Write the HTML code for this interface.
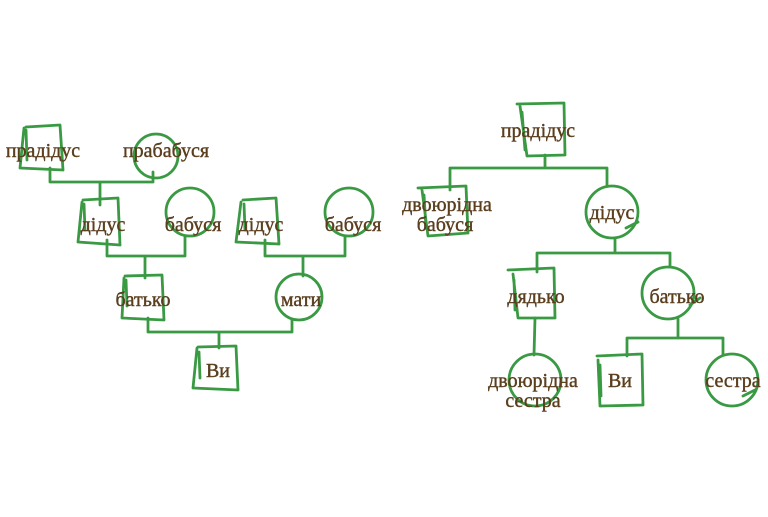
<!DOCTYPE html>
<html><head><meta charset="utf-8"><style>
html,body{margin:0;padding:0;background:#fff;}
svg text{font-family:"Liberation Serif","DejaVu Serif",serif;font-size:20px;fill:#5a3e1e;stroke:#5a3e1e;stroke-width:0.4;text-anchor:middle;}
</style></head><body>
<svg width="768" height="512" viewBox="0 0 768 512" xmlns="http://www.w3.org/2000/svg">
<g fill="none" stroke="#3a9a44" stroke-width="2.8" stroke-linecap="round" stroke-linejoin="round">
<path d="M26 127 L60 125 L63 170 L20 168 L24 128 M26 130 L27 160"/>
<circle cx="156" cy="156" r="22"/>
<path d="M50 168 L50 182 L153 182 L153 172 M100 182 L100 205"/>
<path d="M83 200 L118 198 L120 245 L78 242 L82 202 M84 204 L85 230"/>
<circle cx="190" cy="212" r="24"/>
<path d="M107 240 L107 256 L185 256 L185 236 M145 256 L145 278"/>
<path d="M243 200 L276 198 L279 244 L236 242 L241 202 M244 204 L245 230"/>
<circle cx="349" cy="212" r="24"/>
<path d="M265 240 L265 256 L345 256 L345 236 M303 256 L303 276"/>
<path d="M125 276 L162 275 L164 320 L122 318 L124 278 M126 280 L127 306"/>
<circle cx="299" cy="297" r="23"/>
<path d="M148 318 L148 332 L292 332 L292 320 M219 332 L219 348"/>
<path d="M198 347 L236 346 L238 390 L193 388 L197 348 M199 352 L200 378"/>
<path d="M517 104 L564 103 L565 155 L527 156 L520 106 M522 112 L525 150"/>
<path d="M545 155 L545 168 M450 168 L607 168 M450 168 L450 190 M607 168 L607 186"/>
<path d="M418 188 L466 186 L468 233 L428 236 L422 190 M424 195 L426 228"/>
<circle cx="612" cy="212" r="26"/>
<path d="M626 228 L638 222"/>
<path d="M615 238 L615 253 M537 253 L670 253 M537 253 L537 272 M670 253 L670 267"/>
<path d="M508 270 L554 268 L555 318 L518 318 L513 274 M514 280 L515 310"/>
<circle cx="668" cy="293" r="26"/>
<path d="M690 305 L700 298"/>
<path d="M535 318 L534 355"/>
<circle cx="535" cy="380" r="26"/>
<path d="M678 319 L678 338 M627 338 L723 338 M627 338 L627 356 M723 338 L723 355"/>
<path d="M597 356 L642 354 L643 405 L600 406 L598 360 M600 365 L601 396"/>
<circle cx="732" cy="380" r="26"/>
<path d="M743 396 L755 390"/>
</g>
<text x="43" y="157">прадідус</text>
<text x="166" y="157">прабабуся</text>
<text x="103" y="231">дідус</text>
<text x="193" y="231">бабуся</text>
<text x="261" y="231">дідус</text>
<text x="353" y="231">бабуся</text>
<text x="143" y="306">батько</text>
<text x="301" y="306">мати</text>
<text x="218" y="377">Ви</text>
<text x="538" y="137">прадідус</text>
<text x="447" y="211">двоюрідна</text>
<text x="445" y="231">бабуся</text>
<text x="612" y="219">дідус</text>
<text x="536" y="303">дядько</text>
<text x="677" y="303">батько</text>
<text x="533" y="387">двоюрідна</text>
<text x="533" y="407">сестра</text>
<text x="620" y="387">Ви</text>
<text x="733" y="387">сестра</text>
</svg>
</body></html>
